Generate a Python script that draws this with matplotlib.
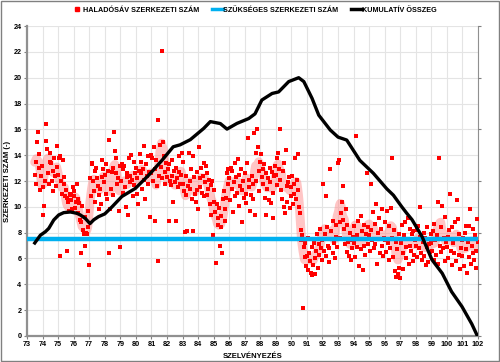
import numpy as np
import pandas as pd
import matplotlib
matplotlib.use("Agg")
import matplotlib.pyplot as plt
from matplotlib.patches import Rectangle
from matplotlib.lines import Line2D

plt.rcParams['font.family'] = ['Liberation Sans', 'DejaVu Sans']

# ---- data -------------------------------------------------------------
station_start = 73.5
station_step = 0.05

values_73_80 = [
    12.5, 13.5, 11.8, 15.0, 15.8, 14.1, 13.0, 11.3, 12.4, 13.2,
    9.4, 11.5, 10.1, 12.0, 16.4, 15.1, 14.5, 12.6, 11.8, 13.5, 14.2, 13.4, 12.0, 11.2, 12.8, 13.8, 12.4, 11.6, 14.7, 13.1,
    12.5, 13.8, 13.9, 6.2, 12.0, 11.0, 13.6, 12.3, 11.8, 10.8, 11.3, 10.7, 6.6, 10.4, 9.7, 11.0, 10.5, 10.9, 9.8, 11.5,
    10.8, 11.2, 9.9, 10.4, 11.8, 10.6, 9.5, 10.3, 9.0, 6.4, 8.8, 10.1, 8.2, 7.9, 9.2, 7.0, 8.0, 7.9, 8.4, 9.7,
    5.5, 12.2, 10.8, 13.4, 13.3, 12.0, 11.2, 10.4, 12.8, 13.0, 12.2, 11.6, 9.8, 10.9, 11.4, 10.2, 12.3, 13.6, 12.9, 11.9,
    12.5, 13.3, 11.0, 10.6, 12.8, 6.4, 15.2, 9.8, 11.4, 12.7, 10.9, 13.0, 15.8, 14.3, 13.8, 12.6, 11.8, 12.2, 9.7, 13.2,
    6.9, 12.0, 13.3, 11.1, 12.9, 13.2, 11.5, 10.0, 12.6, 12.3, 9.4, 13.8, 11.9, 12.4, 14.0, 12.1, 10.8, 11.7, 13.5, 12.6,
]
values_80_90 = [
    13.0, 12.2, 11.0, 10.2, 12.8, 14.1, 12.6, 13.5, 11.4, 12.9, 14.7, 12.1, 10.6, 13.3, 12.4, 11.8, 13.9, 12.7, 9.2, 14.0,
    12.6, 13.8, 12.0, 14.6, 8.9, 12.9, 13.6, 11.6, 5.8, 16.7, 12.4, 14.8, 13.1, 22.1, 12.2, 15.0, 13.9, 12.7, 11.8, 13.4,
    12.3, 12.9, 8.9, 13.3, 12.0, 11.7, 13.6, 12.4, 10.4, 12.8, 11.9, 13.0, 8.9, 12.2, 11.5, 12.7, 13.9, 11.8, 12.5, 14.2,
    11.8, 13.5, 11.2, 8.05, 12.4, 10.9, 8.1, 11.6, 14.2, 12.0, 11.4, 12.9, 10.6, 13.9, 8.1, 12.3, 11.0, 10.4, 12.7, 11.3,
    9.8, 14.6, 12.2, 11.5, 13.0, 11.1, 12.4, 13.4, 10.8, 11.9, 13.2, 12.6, 10.9, 11.4, 12.1, 10.2, 11.7, 9.4, 12.0, 7.8,
    11.3, 10.4, 9.6, 5.65, 10.2, 9.1, 8.6, 9.9, 7.0, 8.4, 9.3, 6.45, 10.6, 11.2, 9.8, 8.9, 10.7, 12.6, 11.8, 12.9,
    12.2, 10.5, 13.0, 11.4, 12.8, 9.6, 11.9, 13.4, 10.8, 12.3, 11.1, 13.7, 12.5, 10.1, 11.6, 12.9, 8.8, 11.3, 12.0, 10.7,
    12.6, 11.0, 10.3, 13.4, 15.3, 12.1, 11.5, 9.7, 10.9, 12.4, 10.6, 11.8, 15.7, 9.4, 14.2, 12.0, 16.0, 14.65, 11.2, 12.8,
    13.5, 14.1, 12.3, 11.8, 12.9, 13.3, 10.7, 9.4, 12.6, 11.4, 12.2, 10.5, 13.0, 11.9, 10.3, 12.7, 11.1, 9.1, 12.4, 13.2,
    12.5, 13.8, 11.7, 14.2, 12.9, 16.0, 12.1, 11.3, 10.6, 12.8, 13.4, 10.0, 9.5, 14.4, 11.6, 10.4, 11.9, 12.3, 9.9, 10.8,
]
values_90_102 = [
    11.5, 12.4, 10.2, 11.8, 11.0, 13.8, 10.6, 12.1, 14.06, 11.3, 10.0, 9.5, 8.2, 7.4, 7.8, 2.2, 6.9, 7.2, 6.1, 5.4,
    6.2, 5.1, 7.6, 6.4, 5.8, 4.9, 4.75, 6.9, 5.5, 7.2, 6.0, 4.8, 6.6, 7.9, 5.3, 6.3, 7.1, 8.3, 6.8, 5.9,
    7.4, 11.8, 6.6, 7.9, 10.8, 6.2, 8.4, 7.0, 5.7, 6.8, 12.9, 8.1, 7.5, 6.4, 8.9, 7.2, 6.0, 8.6, 7.7, 6.9,
    13.4, 13.6, 8.8, 7.6, 9.5, 10.4, 11.6, 9.0, 8.3, 7.1, 9.8, 6.5, 8.6, 7.3, 6.2, 8.0, 7.4, 5.9, 6.8, 7.7,
    7.2, 8.5, 6.1, 15.5, 7.8, 6.9, 8.9, 5.4, 7.5, 9.3, 6.7, 8.1, 5.1, 7.0, 8.6, 6.3, 7.9, 12.6, 8.4, 7.1,
    7.8, 6.6, 11.8, 8.2, 7.4, 9.6, 6.8, 8.7, 7.1, 10.2, 5.6, 8.0, 7.5, 9.1, 6.4, 8.3, 7.0, 9.8, 6.2, 7.6,
    7.4, 8.8, 6.5, 9.7, 7.2, 5.9, 8.5, 6.8, 9.9, 7.6, 13.8, 6.1, 8.2, 5.0, 7.3, 4.6, 6.7, 4.8, 7.9, 5.3,
    4.5, 7.2, 8.6, 6.4, 5.2, 7.8, 8.8, 6.9, 6.0, 7.5, 9.1, 5.6, 7.0, 8.3, 6.6, 7.9, 5.8, 8.1, 6.3, 7.4,
    7.0, 8.2, 6.1, 8.5, 6.8, 7.7, 9.96, 6.4, 5.9, 7.3, 8.0, 6.2, 7.6, 5.5, 6.9, 8.4, 5.7, 7.1, 6.5, 7.9,
    7.2, 6.6, 8.1, 5.9, 8.7, 7.4, 6.3, 7.8, 5.6, 10.4, 13.75, 7.0, 6.5, 8.4, 10.1, 6.8, 7.6, 5.8, 9.2, 7.3,
    6.9, 7.7, 6.0, 8.2, 11.0, 6.6, 8.4, 5.5, 7.2, 6.4, 8.8, 7.5, 5.8, 10.5, 9.05, 6.3, 7.9, 5.2, 6.8, 7.4,
    6.2, 7.6, 5.4, 8.0, 8.5, 6.7, 4.9, 7.3, 6.1, 8.5, 9.85, 5.6, 7.0, 6.4, 8.3, 5.9, 7.8, 6.6, 5.3, 9.05,
    7.3,
]

required_value = 7.5

cum_x = [73.5, 73.86, 74.18, 74.4, 74.72, 75.04, 75.36, 75.79, 76.2, 76.43, 76.75, 77.05, 77.3, 77.6,
         78.0, 78.47, 79.1, 79.97, 80.83, 81.68, 82.4, 82.84, 83.5, 84.36, 84.79, 85.43, 85.86, 86.5,
         87.26, 87.66, 88.1, 88.76, 89.18, 89.83, 90.47, 90.8, 91.33, 91.76, 92.5, 93.0, 93.56, 94.4,
         95.27, 96.13, 96.56, 97.1, 97.42, 97.76, 98.4, 99.04, 99.7, 100.3, 100.97, 101.6, 101.93, 102.0]
cum_y = [7.2, 7.8, 8.07, 8.33, 8.98, 9.37, 9.55, 9.6, 9.5, 9.37, 9.1, 8.7, 9.0, 9.24,
         9.45, 10.0, 10.8, 11.43, 12.46, 13.6, 14.65, 14.8, 15.2, 16.07, 16.6, 16.45, 16.02, 16.46,
         16.84, 17.2, 18.27, 18.78, 18.9, 19.7, 20.0, 19.7, 18.4, 17.1, 15.95, 15.4, 15.17, 13.6,
         12.6, 11.4, 10.9, 10.0, 9.5, 9.0, 7.7, 5.9, 4.85, 3.43, 2.27, 0.93, 0.08, 0.0]

x_ticks = list(range(73, 103))
y_ticks = list(range(0, 25, 2))

legend_labels = ["HALADÓSÁV SZERKEZETI SZÁM", "SZÜKSÉGES SZERKEZETI SZÁM", "KUMULATÍV ÖSSZEG"]
x_label = "SZELVÉNYEZÉS"
y_label = "SZERKEZETI SZÁM (-)"

# ---- build -------------------------------------------------------------
vals = np.array(values_73_80 + values_80_90 + values_90_102)
xs = station_start + station_step * np.arange(len(vals))
smooth = pd.Series(vals).rolling(7, center=True, min_periods=4).mean().rolling(3, center=True, min_periods=2).mean()

fig = plt.figure(figsize=(5.0, 3.62), dpi=100)
ax = fig.add_axes([0.054, 0.072, 0.902, 0.856])

ax.plot(xs, smooth, color='#FF8C8C', alpha=0.5, lw=6.5, solid_capstyle='round', zorder=2)
ax.scatter(xs, vals, marker='s', s=6, color='#FF0000', linewidths=0, zorder=3)
ax.plot([73, 102], [required_value, required_value], color='#00B0F0', lw=3.2, zorder=4)
ax.plot(cum_x, cum_y, color='black', lw=2.4, zorder=5)

ax.set_xlim(73, 102)
ax.set_ylim(0, 24)
ax.set_xticks(x_ticks)
ax.set_yticks(y_ticks)
ax.grid(True, color='#E4E4E4', lw=0.8, zorder=0)
ax.set_axisbelow(True)
for lab in ax.get_xticklabels() + ax.get_yticklabels():
    lab.set_fontweight('bold')
ax.tick_params(axis='both', labelsize=5.2, length=2, width=0.8, color='#808080', pad=2)
ax.spines['top'].set_visible(False)
ax.spines['left'].set_color('#909090')
ax.spines['left'].set_linewidth(1.6)
ax.spines['bottom'].set_color('#909090')
ax.spines['bottom'].set_linewidth(1.6)
ax.spines['right'].set_color('#909090')
ax.spines['right'].set_linewidth(0.8)

ax2 = ax.twinx()
ax2.set_ylim(0, 24)
ax2.set_yticks(range(0, 25, 4))
ax2.set_yticklabels([])
ax2.tick_params(axis='y', length=2, width=0.8, color='#808080')
for s in ax2.spines.values():
    s.set_visible(False)

ax.set_xlabel(x_label, fontsize=5.5, fontweight='bold')
ax.set_ylabel(y_label, fontsize=5.5, fontweight='bold')
ax.xaxis.set_label_coords(0.50, -0.055)
ax.yaxis.set_label_coords(-0.035, 0.5)

h1 = Line2D([], [], marker='s', color='#FF0000', ls='none', markersize=3)
h2 = Line2D([], [], color='#00B0F0', lw=2.5)
h3 = Line2D([], [], color='black', lw=2.5)
fig.legend([h1, h2, h3], legend_labels, loc='center', bbox_to_anchor=(0.508, 0.972), ncol=3,
           frameon=False, prop={'size': 5.2, 'weight': 'bold'}, handlelength=1.5,
           handletextpad=0.0, columnspacing=1.8)

fig.patches.append(Rectangle((0.001, 0.002), 0.997, 0.995, transform=fig.transFigure,
                             fill=False, edgecolor='#808080', lw=1.0))

fig.savefig('out.png', dpi=100)
